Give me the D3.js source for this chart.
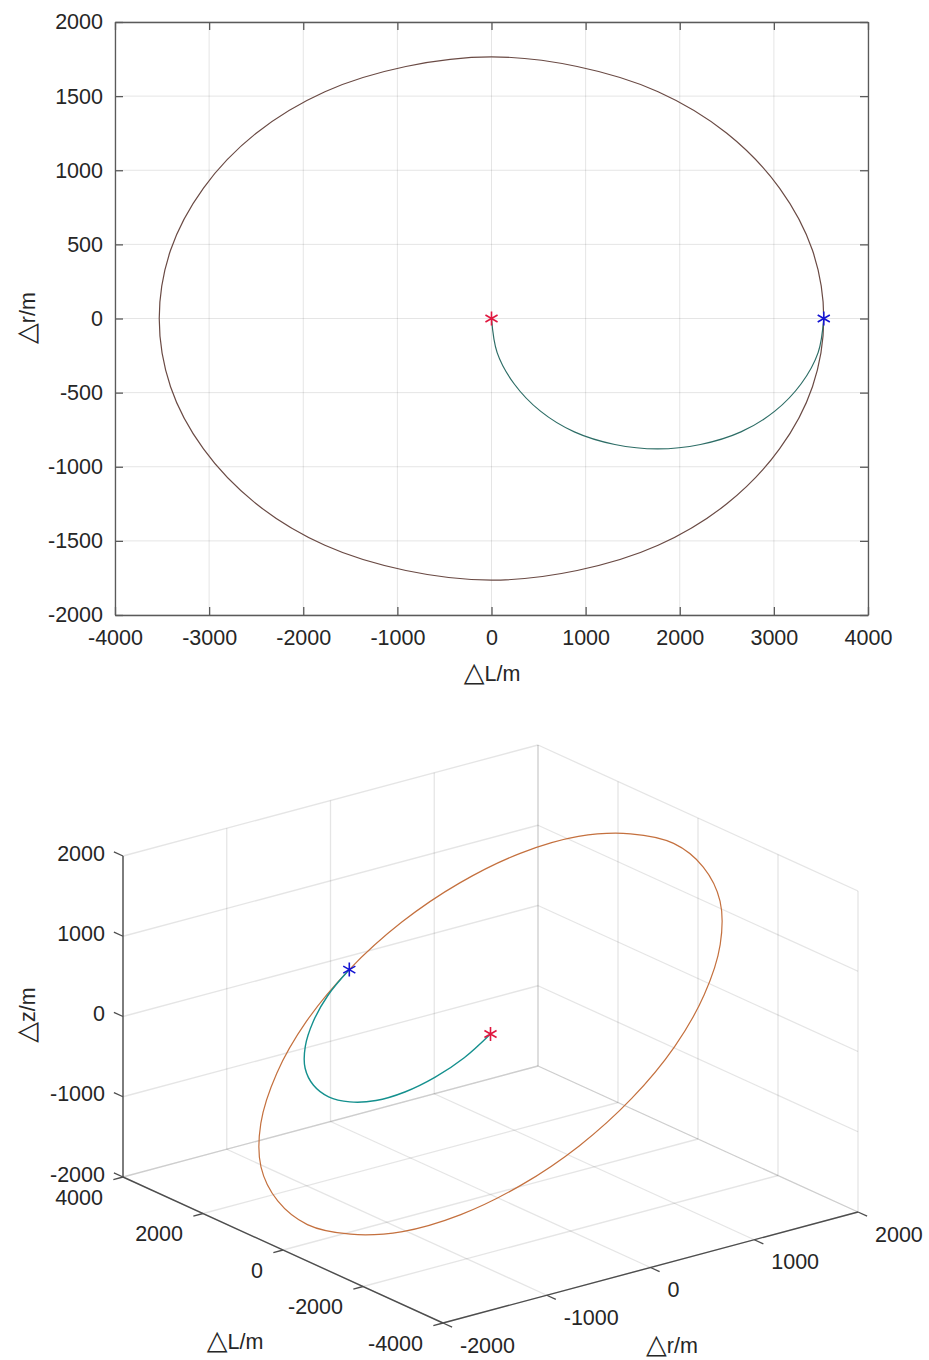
<!DOCTYPE html>
<html>
<head>
<meta charset="utf-8">
<script src="https://cdn.jsdelivr.net/npm/d3@7"></script>
<style>
  body { margin: 0; background: #fff; }
  svg { display: block; font-family: "Liberation Sans", Arial, sans-serif; }
  .axis text { font-size: 21.5px; fill: #262626; }
  .axis path, .axis line { stroke: #5a5a5a; stroke-width: 1.3; }
  .title { font-size: 21.5px; fill: #262626; }
  .tri { font-size: 27px; font-family: "DejaVu Sans", sans-serif; }
</style>
</head>
<body>
<div id="chart"></div>
<script>

// relative orbit (closed ellipse), every 15 degrees
var orbitL = [3530, 3410, 3060, 2500, 1770, 910, 0, -910, -1770, -2500, -3060, -3410,
              -3530, -3410, -3060, -2500, -1770, -910, 0, 910, 1770, 2500, 3060, 3410];
var orbitR = [0, 460, 880, 1250, 1530, 1700, 1765, 1700, 1530, 1250, 880, 460,
              0, -460, -880, -1250, -1530, -1700, -1765, -1700, -1530, -1250, -880, -460];
var orbitZ = [0, 460, 880, 1250, 1530, 1700, 1765, 1700, 1530, 1250, 880, 460,
              0, -460, -880, -1250, -1530, -1700, -1765, -1700, -1530, -1250, -880, -460];

// transfer arc from the origin to the orbit
var transL = [0, 60, 240, 520, 880, 1310, 1765, 2220, 2650, 3010, 3290, 3470, 3530];
var transR = [0, -230, -440, -625, -765, -850, -880, -850, -765, -625, -440, -230, 0];
var transZ = [0, -230, -440, -625, -765, -850, -880, -850, -765, -625, -440, -230, 0];

// start (red) and end (blue) markers
var markL = [0, 3530];
var markR = [0, 0];
var markZ = [0, 0];

var domainL = [-4000, 4000];
var domainR = [-2000, 2000];
var domainZ = [-2000, 2000];

var labelL = "L/m", labelR = "r/m", labelZ = "z/m";

var markColors = ["#e0173f", "#1414d2"];

var W = 929, H = 1360;
var fmt = function (d) { return String(d); };

var svg = d3.select("#chart").append("svg")
    .attr("width", W)
    .attr("height", H);

svg.append("rect").attr("width", W).attr("height", H).attr("fill", "#fff");

function star(g, px, py, color) {
    var r = 7, p = "";
    [90, 30, 150].forEach(function (a) {
        var t = a * Math.PI / 180;
        p += "M" + (px - r * Math.cos(t)) + "," + (py - r * Math.sin(t)) +
             "L" + (px + r * Math.cos(t)) + "," + (py + r * Math.sin(t));
    });
    g.append("path").attr("d", p)
        .attr("stroke", color).attr("stroke-width", 1.6).attr("fill", "none");
}

// axis title: a large white triangle followed by the name
function title(sel, name) {
    sel.append("tspan").attr("class", "tri").text("△");
    sel.append("tspan").text(name);
    return sel;
}

// ----------------------- UPPER : 2D plot

var x = d3.scaleLinear().domain(domainL).range([115, 868]);
var y = d3.scaleLinear().domain(domainR).range([615, 22]);

var upper = svg.append("g");

var grid = upper.append("g")
    .attr("stroke", "#262626")
    .attr("stroke-opacity", 0.12)
    .attr("stroke-width", 1);

grid.selectAll(".gx").data(x.ticks(8)).enter().append("line")
    .attr("x1", function (d) { return x(d); })
    .attr("x2", function (d) { return x(d); })
    .attr("y1", y.range()[0]).attr("y2", y.range()[1]);

grid.selectAll(".gy").data(y.ticks(8)).enter().append("line")
    .attr("y1", function (d) { return y(d); })
    .attr("y2", function (d) { return y(d); })
    .attr("x1", x.range()[0]).attr("x2", x.range()[1]);

var line2 = d3.line()
    .x(function (i) { return x(orbitL[i]); })
    .y(function (i) { return y(orbitR[i]); })
    .curve(d3.curveCatmullRomClosed.alpha(0.5));

upper.append("path")
    .attr("d", line2(d3.range(orbitL.length)))
    .attr("fill", "none")
    .attr("stroke", "#6a4a44")
    .attr("stroke-width", 1.2);

var arc2 = d3.line()
    .x(function (i) { return x(transL[i]); })
    .y(function (i) { return y(transR[i]); })
    .curve(d3.curveCatmullRom.alpha(0.5));

upper.append("path")
    .attr("d", arc2(d3.range(transL.length)))
    .attr("fill", "none")
    .attr("stroke", "#2d6d66")
    .attr("stroke-width", 1.2);

markL.forEach(function (d, i) {
    star(upper, x(markL[i]), y(markR[i]), markColors[i]);
});

upper.append("g").attr("class", "axis")
    .attr("transform", "translate(0,615)")
    .call(d3.axisBottom(x).ticks(8).tickFormat(fmt).tickSizeInner(-8).tickSizeOuter(0).tickPadding(15));

upper.append("g").attr("class", "axis")
    .attr("transform", "translate(0,22)")
    .call(d3.axisTop(x).ticks(8).tickFormat("").tickSizeInner(-8).tickSizeOuter(0));

upper.append("g").attr("class", "axis")
    .attr("transform", "translate(115,0)")
    .call(d3.axisLeft(y).ticks(8).tickFormat(fmt).tickSizeInner(-8).tickSizeOuter(0).tickPadding(12));

upper.append("g").attr("class", "axis")
    .attr("transform", "translate(868,0)")
    .call(d3.axisRight(y).ticks(8).tickFormat("").tickSizeInner(-8).tickSizeOuter(0));

title(upper.append("text").attr("class", "title")
    .attr("x", 492).attr("y", 681)
    .attr("text-anchor", "middle"), labelL);

title(upper.append("text").attr("class", "title")
    .attr("transform", "translate(35,318) rotate(-90)")
    .attr("text-anchor", "middle"), labelR);

// ----------------------- LOWER : 3D plot

// screen position of the corner (L min, r min, z min) and of each full axis edge
var c0 = [443, 1323];
var vL = [-320, -146], vR = [415, -111], vZ = [0, -321];

var sL = d3.scaleLinear().domain(domainL).range([0, 1]);
var sR = d3.scaleLinear().domain(domainR).range([0, 1]);
var sZ = d3.scaleLinear().domain(domainZ).range([0, 1]);

function proj(l, r, z) {
    var a = sL(l), b = sR(r), c = sZ(z);
    return [c0[0] + a * vL[0] + b * vR[0] + c * vZ[0],
            c0[1] + a * vL[1] + b * vR[1] + c * vZ[1]];
}

var ticksL = sL.ticks(5), ticksR = sR.ticks(5), ticksZ = sZ.ticks(5);
var Lmin = domainL[0], Lmax = domainL[1];
var Rmin = domainR[0], Rmax = domainR[1];
var Zmin = domainZ[0], Zmax = domainZ[1];

var segs = [];
// floor
ticksL.forEach(function (l) { segs.push([proj(l, Rmin, Zmin), proj(l, Rmax, Zmin)]); });
ticksR.forEach(function (r) { segs.push([proj(Lmin, r, Zmin), proj(Lmax, r, Zmin)]); });
// wall at L max
ticksR.forEach(function (r) { segs.push([proj(Lmax, r, Zmin), proj(Lmax, r, Zmax)]); });
ticksZ.forEach(function (z) { segs.push([proj(Lmax, Rmin, z), proj(Lmax, Rmax, z)]); });
// wall at r max
ticksL.forEach(function (l) { segs.push([proj(l, Rmax, Zmin), proj(l, Rmax, Zmax)]); });
ticksZ.forEach(function (z) { segs.push([proj(Lmin, Rmax, z), proj(Lmax, Rmax, z)]); });

var lower = svg.append("g");

lower.append("g")
    .attr("stroke", "#262626")
    .attr("stroke-opacity", 0.12)
    .attr("stroke-width", 1.3)
    .selectAll("line").data(segs).enter().append("line")
    .attr("x1", function (d) { return d[0][0]; })
    .attr("y1", function (d) { return d[0][1]; })
    .attr("x2", function (d) { return d[1][0]; })
    .attr("y2", function (d) { return d[1][1]; });

var orbitPts = orbitL.map(function (d, i) { return proj(orbitL[i], orbitR[i], orbitZ[i]); });
var transPts = transL.map(function (d, i) { return proj(transL[i], transR[i], transZ[i]); });

lower.append("path")
    .attr("d", d3.line().curve(d3.curveCatmullRomClosed.alpha(0.5))(orbitPts))
    .attr("fill", "none")
    .attr("stroke", "#c4703e")
    .attr("stroke-width", 1.2);

lower.append("path")
    .attr("d", d3.line().curve(d3.curveCatmullRom.alpha(0.5))(transPts))
    .attr("fill", "none")
    .attr("stroke", "#14908e")
    .attr("stroke-width", 1.4);

markL.forEach(function (d, i) {
    var p = proj(markL[i], markR[i], markZ[i]);
    star(lower, p[0], p[1], markColors[i]);
});

// axis lines
var axes = [
    [proj(Lmax, Rmin, Zmin), proj(Lmax, Rmin, Zmax)],
    [proj(Lmin, Rmin, Zmin), proj(Lmax, Rmin, Zmin)],
    [proj(Lmin, Rmin, Zmin), proj(Lmin, Rmax, Zmin)]
];
lower.append("g")
    .attr("stroke", "#4d4d4d")
    .attr("stroke-width", 1.4)
    .selectAll("line").data(axes).enter().append("line")
    .attr("x1", function (d) { return d[0][0]; })
    .attr("y1", function (d) { return d[0][1]; })
    .attr("x2", function (d) { return d[1][0]; })
    .attr("y2", function (d) { return d[1][1]; });

function unit(v, len) {
    var n = Math.sqrt(v[0] * v[0] + v[1] * v[1]);
    return [v[0] / n * len, v[1] / n * len];
}
var tz = unit(vL, 10), tl = unit([-vR[0], -vR[1]], 10), tr = unit([-vL[0], -vL[1]], 10);

var tickG = lower.append("g").attr("stroke", "#4d4d4d").attr("stroke-width", 1.3);
var textG = lower.append("g").attr("class", "axis");

ticksZ.forEach(function (z) {
    var p = proj(Lmax, Rmin, z);
    tickG.append("line").attr("x1", p[0]).attr("y1", p[1])
        .attr("x2", p[0] + tz[0]).attr("y2", p[1] + tz[1]);
    textG.append("text").attr("x", p[0] - 18).attr("y", p[1] - 3)
        .attr("dy", "0.35em").attr("text-anchor", "end").text(fmt(z));
});

ticksL.forEach(function (l) {
    var p = proj(l, Rmin, Zmin);
    tickG.append("line").attr("x1", p[0]).attr("y1", p[1])
        .attr("x2", p[0] + tl[0]).attr("y2", p[1] + tl[1]);
    textG.append("text").attr("x", p[0] - 20).attr("y", p[1] + 20)
        .attr("dy", "0.35em").attr("text-anchor", "end").text(fmt(l));
});

ticksR.forEach(function (r) {
    var p = proj(Lmin, r, Zmin);
    tickG.append("line").attr("x1", p[0]).attr("y1", p[1])
        .attr("x2", p[0] + tr[0]).attr("y2", p[1] + tr[1]);
    textG.append("text").attr("x", p[0] + 17).attr("y", p[1] + 22)
        .attr("dy", "0.35em").attr("text-anchor", "start").text(fmt(r));
});

title(lower.append("text").attr("class", "title")
    .attr("x", 235).attr("y", 1349)
    .attr("text-anchor", "middle"), labelL);

title(lower.append("text").attr("class", "title")
    .attr("x", 672).attr("y", 1353)
    .attr("text-anchor", "middle"), labelR);

title(lower.append("text").attr("class", "title")
    .attr("transform", "translate(35,1015) rotate(-90)")
    .attr("text-anchor", "middle"), labelZ);

</script>
</body>
</html>
